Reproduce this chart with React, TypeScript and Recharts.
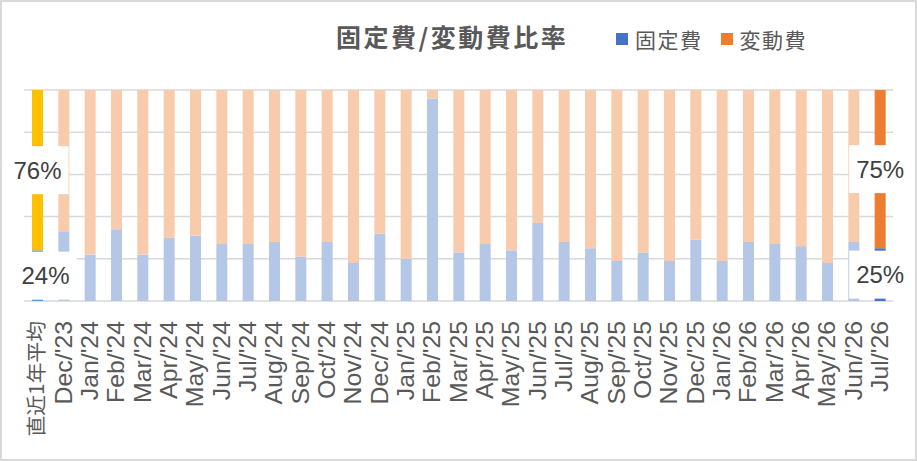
import { BarChart, Bar, XAxis, YAxis, CartesianGrid, Cell, LabelList } from "recharts"

const categories = [
  "直近1年平均", "Dec/'23",
  "Jan/'24", "Feb/'24", "Mar/'24", "Apr/'24", "May/'24", "Jun/'24", "Jul/'24", "Aug/'24", "Sep/'24", "Oct/'24", "Nov/'24", "Dec/'24",
  "Jan/'25", "Feb/'25", "Mar/'25", "Apr/'25", "May/'25", "Jun/'25", "Jul/'25", "Aug/'25", "Sep/'25", "Oct/'25", "Nov/'25", "Dec/'25",
  "Jan/'26", "Feb/'26", "Mar/'26", "Apr/'26", "May/'26", "Jun/'26", "Jul/'26",
]
// 固定費 ratio (%)
const fixedRatio = [24, 33, 22, 34, 22, 30, 31, 27, 27, 28, 21, 28, 18, 32, 20, 96, 23, 27, 24, 37, 28, 25, 19, 23, 19, 29, 19, 28, 27, 26, 18, 28, 25]
// 変動費 ratio (%)
const variableRatio = [76, 67, 78, 66, 78, 70, 69, 73, 73, 72, 79, 72, 82, 68, 80, 4, 77, 73, 76, 63, 72, 75, 81, 77, 81, 71, 81, 72, 73, 74, 82, 72, 75]
const yTicks = [0, 10, 20, 30, 40, 50, 60, 70, 80, 90, 100]

const data = categories.map((name, i) => ({ name, fixed: fixedRatio[i], variable: variableRatio[i] }))
const LAST = categories.length - 1

const fixedColor = (i: number) => (i === 0 ? "#5B9BD5" : i === LAST ? "#4472C4" : "#B4C7E7")
const variableColor = (i: number) => (i === 0 ? "#FFC000" : i === LAST ? "#ED7D31" : "#F8CBAD")

const AxisTick = (props: any) => {
  const { x, y, payload } = props
  const label = String(payload.value)
  const cjk = /[^\x00-\x7f]/.test(label)
  return (
    <g transform={`translate(${x},${y + 12})`}>
      <text
        transform={cjk ? "rotate(-90) scale(1.04,1)" : "rotate(-90) scale(1.08,1)"}
        textAnchor="end"
        dy="0.36em"
        fontSize={cjk ? 20 : 23}
        fontFamily={cjk ? "'Noto Sans CJK JP', sans-serif" : "'Liberation Sans', Arial, sans-serif"}
        fill="#595959"
      >
        {label}
      </text>
    </g>
  )
}

const makeLabel = (shiftFirst: number) => (props: any) => {
  const { x, y, width, height, value, index } = props
  if (index !== 0 && index !== LAST) return null
  const cx = Number(x) + Number(width) / 2 + (index === 0 ? shiftFirst : 0)
  const cy = Number(y) + Number(height) / 2
  return (
    <g>
      <rect x={cx - 31} y={cy - 24} width={62} height={48} fill="#ffffff" />
      <text
        x={cx}
        y={cy}
        textAnchor="middle"
        dominantBaseline="central"
        fontSize={24}
        fontFamily="'Liberation Sans', Arial, sans-serif"
        fill="#404040"
      >
        {`${value}%`}
      </text>
    </g>
  )
}

export default function App() {
  return (
    <div
      style={{
        position: "absolute",
        left: 0,
        top: 0,
        width: 917,
        height: 461,
        boxSizing: "border-box",
        border: "2px solid #D9D9D9",
        background: "#ffffff",
        fontFamily: "'Noto Sans CJK JP', sans-serif",
      }}
    >
      <div
        style={{
          position: "absolute",
          left: 334,
          top: 17,
          fontSize: 25,
          fontWeight: 700,
          letterSpacing: 2.5,
          color: "#595959",
          lineHeight: "34px",
          whiteSpace: "nowrap",
        }}
      >
        固定費/変動費比率
      </div>
      <div style={{ position: "absolute", left: 614, top: 21, display: "flex", alignItems: "center", color: "#595959", fontSize: 21, lineHeight: "32px", whiteSpace: "nowrap" }}>
        <span style={{ width: 12, height: 12, background: "#4472C4", marginRight: 7 }} />
        <span style={{ letterSpacing: 1.5 }}>固定費</span>
        <span style={{ width: 12, height: 12, background: "#ED7D31", marginLeft: 18, marginRight: 7 }} />
        <span style={{ letterSpacing: 1.5 }}>変動費</span>
      </div>
      <div style={{ position: "absolute", left: -2, top: -2 }}>
        <BarChart width={917} height={461} data={data} margin={{ top: 90, right: 24, left: 24, bottom: 0 }} barSize={11}>
          <CartesianGrid vertical={false} stroke="#D9D9D9" strokeWidth={1.5} />
          <YAxis hide domain={[0, 100]} ticks={yTicks} />
          <XAxis dataKey="name" interval={0} height={160} tickLine={false} axisLine={false} tick={<AxisTick />} />
          <Bar dataKey="fixed" stackId="a" isAnimationActive={false}>
            {data.map((_, i) => (
              <Cell key={i} fill={fixedColor(i)} />
            ))}
            <LabelList dataKey="fixed" content={makeLabel(8)} />
          </Bar>
          <Bar dataKey="variable" stackId="a" isAnimationActive={false}>
            {data.map((_, i) => (
              <Cell key={i} fill={variableColor(i)} />
            ))}
            <LabelList dataKey="variable" content={makeLabel(0)} />
          </Bar>
        </BarChart>
      </div>
    </div>
  )
}
